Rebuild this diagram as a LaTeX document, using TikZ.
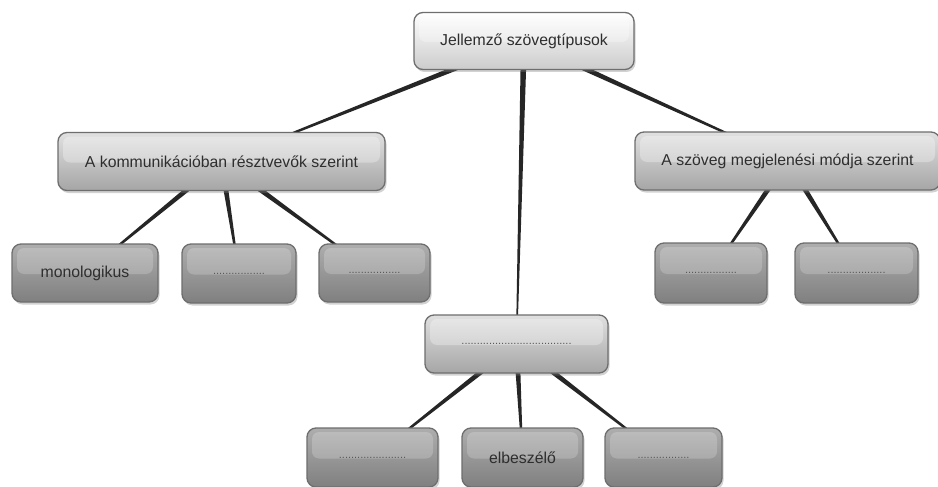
\documentclass[tikz,border=0pt]{standalone}
\usepackage{fontspec}
\setmainfont{Liberation Sans}
\usetikzlibrary{calc,shadows}
\pgfdeclarelayer{paper}
\pgfdeclarelayer{background}
\pgfsetlayers{paper,background,main}
\definecolor{txtc}{HTML}{2E2E2E}
\definecolor{bordc}{HTML}{6E6E6E}
\definecolor{connc}{HTML}{262626}
\newcommand{\conntaper}[2]{\fill[connc] ($(#1)!3pt!90:(#2)$) -- ($(#2)!0.6pt!-90:(#1)$) -- ($(#2)!0.6pt!90:(#1)$) -- ($(#1)!3pt!-90:(#2)$) -- cycle;}
\tikzset{
  boxbase/.style={draw=bordc, line width=1.3pt, rounded corners=9pt, inner sep=0pt,
    text=txtc, font=\fontsize{15.8}{17}\selectfont,
    drop shadow={opacity=0.35, shadow xshift=1.5pt, shadow yshift=-2.5pt}},
  gloss/.style={path picture={
    \fill[white,opacity=#1,rounded corners=7pt]
      ([shift={(5pt,-4pt)}]path picture bounding box.north west) rectangle
      ([shift={(-5pt,-1pt)}]path picture bounding box.east);}},
  rootbox/.style={boxbase, top color=white, bottom color=black!20, gloss=0.3},
  midbox/.style={boxbase, top color=black!12, bottom color=black!35, gloss=0.3},
  leafbox/.style={boxbase, top color=black!32, bottom color=black!50, gloss=0.2},
  dots/.style={font=\fontsize{11}{12}\selectfont, text=black!65}
}
\begin{document}
\begin{tikzpicture}[x=1pt,y=-1pt]
\begin{pgfonlayer}{paper}
\fill[white] (0,0) rectangle (938,487);
\end{pgfonlayer}
\useasboundingbox (0,0) rectangle (938,487);
% nodes
\node[rootbox, minimum width=220pt, minimum height=57pt] (root) at (524,41) {Jellemző szövegtípusok};
\node[midbox, minimum width=327pt, minimum height=58pt] (lm) at (221.5,161.5) {A kommunikációban résztvevők szerint};
\node[midbox, minimum width=305pt, minimum height=58pt] (rm) at (787.5,161) {A szöveg megjelenési módja szerint};
\node[midbox, minimum width=183pt, minimum height=58pt, dots] (mm) at (516.5,344) {....................................};
\node[leafbox, minimum width=146pt, minimum height=58pt] (l1) at (85,273) {monologikus};
\node[leafbox, minimum width=114pt, minimum height=59pt, dots] (l2) at (239,273.5) {.................};
\node[leafbox, minimum width=111pt, minimum height=58pt, dots] (l3) at (374.5,273) {.................};
\node[leafbox, minimum width=112pt, minimum height=60pt, dots] (r1) at (711,273) {.................};
\node[leafbox, minimum width=123pt, minimum height=60pt, dots] (r2) at (856.5,273) {...................};
\node[leafbox, minimum width=131pt, minimum height=59pt, dots] (b1) at (372.5,457.5) {......................};
\node[leafbox, minimum width=121pt, minimum height=59pt] (b2) at (522.5,457.5) {elbeszélő};
\node[leafbox, minimum width=117pt, minimum height=59pt, dots] (b3) at (663.5,457.5) {.................};
% connectors
\begin{pgfonlayer}{background}
\conntaper{root.center}{lm.center}
\conntaper{root.center}{mm.center}
\conntaper{root.center}{rm.center}
\conntaper{lm.center}{l1.center}
\conntaper{lm.center}{l2.center}
\conntaper{lm.center}{l3.center}
\conntaper{rm.center}{r1.center}
\conntaper{rm.center}{r2.center}
\conntaper{mm.center}{b1.center}
\conntaper{mm.center}{b2.center}
\conntaper{mm.center}{b3.center}
\end{pgfonlayer}
\end{tikzpicture}
\end{document}
